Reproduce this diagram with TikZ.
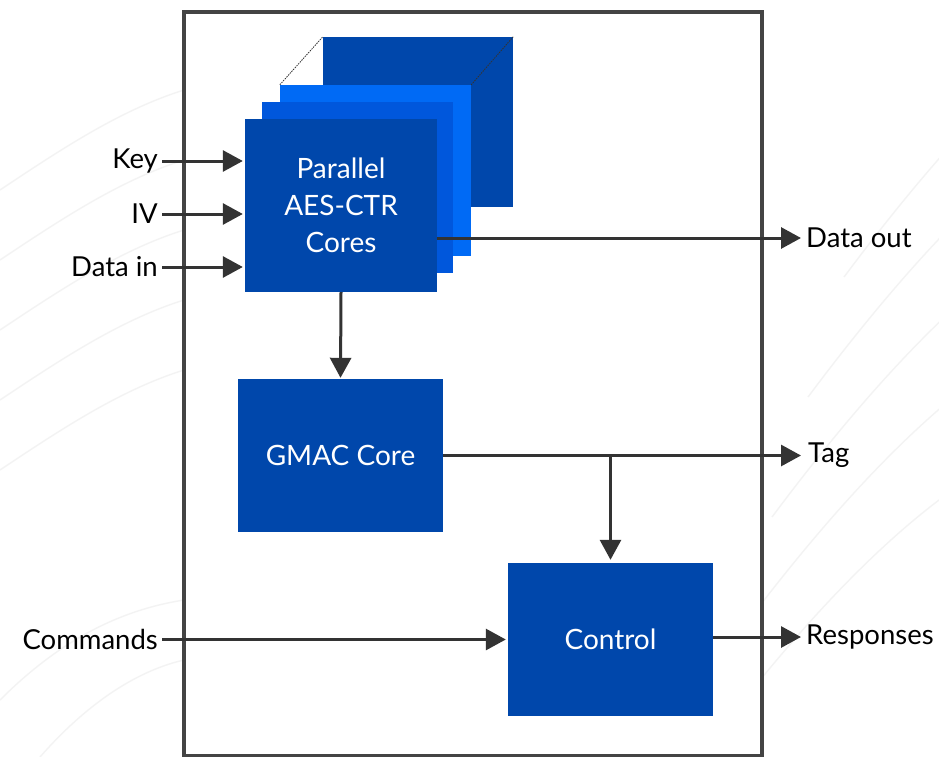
\documentclass[tikz,border=0pt]{standalone}
\usepackage{fontspec}
\setmainfont{Lato}
\usetikzlibrary{arrows.meta}

\definecolor{coreblue}{HTML}{0047AB}
\definecolor{midblue}{HTML}{0057DC}
\definecolor{brightblue}{HTML}{006AF5}
\definecolor{wire}{HTML}{333333}
\definecolor{framegray}{HTML}{444444}
\definecolor{swirl}{HTML}{F3F3F3}

\tikzset{
  block/.style={draw=none, fill=coreblue, inner sep=0pt, text=white,
    font=\fontsize{28}{37}\selectfont, align=center},
  label/.style={inner sep=0pt, text=black, font=\fontsize{27.5}{32}\selectfont},
  wirearrow/.style={draw=wire, line width=3pt,
    -{Triangle[length=20pt,width=21pt]}},
  ghost/.style={draw=wire, line width=0.8pt, dash pattern=on 1.5pt off 1pt},
  swirlline/.style={draw=swirl, line width=1.4pt}
}

\begin{document}
\begin{tikzpicture}[x=1pt, y=-1pt]
  \useasboundingbox (0,0) rectangle (939,757);
  \fill[white] (0,0) rectangle (939,757);

  % faint background curves
  \foreach \d in {0,70,140,210,280} {
    \draw[swirlline] (0,{190+\d}) .. controls (60,{150+\d}) and (120,{110+\d}) .. (184,{90+\d});
  }
  \foreach \d in {0,120,240,360,480} {
    \draw[swirlline] ({700+\d*0.3},{757-\d}) .. controls ({780+\d*0.3},{650-\d}) and ({860+\d*0.3},{560-\d}) .. ({939+\d*0.3},{500-\d});
  }
  \draw[swirlline] (0,700) .. controls (60,640) and (120,610) .. (184,600);
  \draw[swirlline] (40,757) .. controls (90,700) and (140,670) .. (184,660);

  % enclosing frame
  \draw[framegray, fill=white, line width=4pt] (184,12) rectangle (762,756);

  % stacked AES-CTR cores
  \node[block, minimum width=190pt, minimum height=170pt] (back) at (418,122) {};
  \node[block, fill=brightblue, minimum width=191pt, minimum height=171pt] (bright) at (375.5,170.5) {};
  \node[block, fill=midblue, minimum width=191pt, minimum height=171pt] (mid) at (357.5,187.5) {};
  \node[block, minimum width=192pt, minimum height=173pt] (front) at (341,205.5) {Parallel\\AES-CTR\\Cores};
  \draw[ghost] (bright.north west) -- (back.north west);
  \draw[ghost] (bright.north east) -- (back.north east);

  % GMAC and control blocks
  \node[block, minimum width=205pt, minimum height=153pt] (gmac) at (340.5,455.5) {GMAC Core};
  \node[block, minimum width=205pt, minimum height=153pt] (ctrl) at (610.5,639.5) {Control};

  % port labels
  \node[label, anchor=east] (key) at (158,161) {Key};
  \node[label, anchor=east] (iv) at (158,214) {IV};
  \node[label, anchor=east] (din) at (158,267) {Data in};
  \node[label, anchor=east] (cmd) at (158,639.5) {Commands};
  \node[label, anchor=west] (dout) at (806,238) {Data out};
  \node[label, anchor=west] (tag) at (808,455.5) {Tag};
  \node[label, anchor=west] (resp) at (806,637) {Responses};

  % inputs
  \draw[wirearrow, shorten <=4pt, shorten >=2pt] (key.east) -- (front.west |- key.east);
  \draw[wirearrow, shorten <=4pt, shorten >=2pt] (iv.east) -- (front.west |- iv.east);
  \draw[wirearrow, shorten <=4pt, shorten >=2pt] (din.east) -- (front.west |- din.east);
  \draw[wirearrow, shorten <=4pt, shorten >=2pt] (cmd.east) -- (ctrl.west |- cmd.east);

  % outputs
  \draw[wirearrow, shorten >=5pt] (front.east |- dout.west) -- (dout.west);
  \draw[wirearrow, shorten >=7pt] (gmac.east) -- (tag.west);
  \draw[wirearrow, shorten >=5pt] (ctrl.east |- resp.west) -- (resp.west);

  % internal data path
  \draw[wirearrow, shorten >=1pt] (front.south) -- (gmac.north);
  \coordinate (branch) at (ctrl.north |- gmac.east);
  \draw[wirearrow, shorten >=3pt] (branch) -- (ctrl.north);
\end{tikzpicture}
\end{document}
